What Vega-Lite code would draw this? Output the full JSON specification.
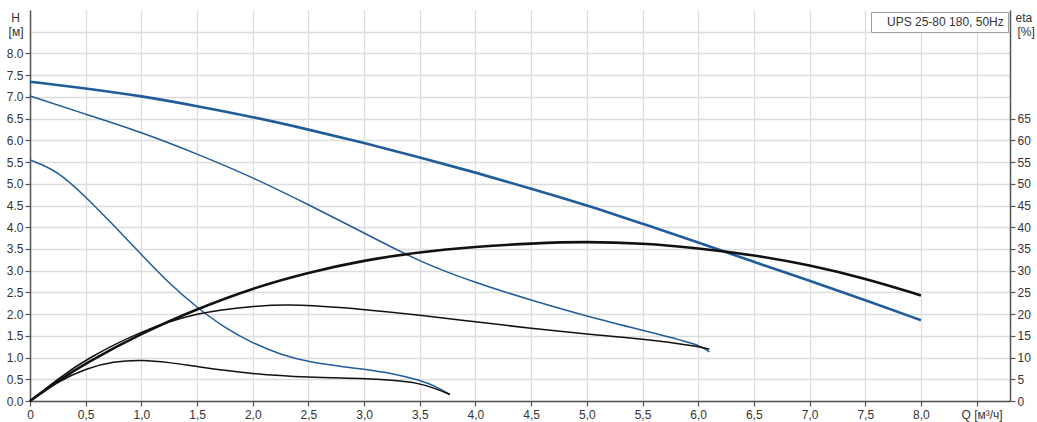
{
  "$schema": "https://vega.github.io/schema/vega-lite/v6.json",
  "width": 980,
  "height": 391,
  "autosize": {"type": "none"},
  "padding": {"left": 30, "top": 10, "right": 27, "bottom": 21},
  "background": "white",
  "config": {
    "font": "Liberation Sans",
    "view": {"stroke": null},
    "axis": {
      "labelFont": "Liberation Sans",
      "labelFontSize": 12,
      "labelColor": "#333333",
      "domainColor": "#555555",
      "domainWidth": 1.5,
      "tickColor": "#555555",
      "tickSize": 5,
      "tickWidth": 1.2,
      "gridColor": "#dcdcdc",
      "gridWidth": 1.3,
      "titleFont": "Liberation Sans",
      "titleFontSize": 12,
      "titleFontWeight": "normal",
      "titleColor": "#333333",
      "labelFlush": false,
      "labelOverlap": false,
      "labelBound": false
    }
  },
  "datasets": {
    "H": [
      {"curve": "n3", "q": 0, "h": 7.35}, {"curve": "n3", "q": 0.5, "h": 7.2}, {"curve": "n3", "q": 1, "h": 7.02},
      {"curve": "n3", "q": 1.5, "h": 6.79}, {"curve": "n3", "q": 2, "h": 6.54}, {"curve": "n3", "q": 2.5, "h": 6.25},
      {"curve": "n3", "q": 3, "h": 5.94}, {"curve": "n3", "q": 3.5, "h": 5.61}, {"curve": "n3", "q": 4, "h": 5.26},
      {"curve": "n3", "q": 4.5, "h": 4.89}, {"curve": "n3", "q": 5, "h": 4.51}, {"curve": "n3", "q": 5.5, "h": 4.08},
      {"curve": "n3", "q": 6, "h": 3.65}, {"curve": "n3", "q": 6.5, "h": 3.2}, {"curve": "n3", "q": 7, "h": 2.77},
      {"curve": "n3", "q": 7.5, "h": 2.32}, {"curve": "n3", "q": 8, "h": 1.86},
      {"curve": "n2", "q": 0, "h": 7.02}, {"curve": "n2", "q": 0.5, "h": 6.6}, {"curve": "n2", "q": 1, "h": 6.19},
      {"curve": "n2", "q": 1.5, "h": 5.69}, {"curve": "n2", "q": 2, "h": 5.15}, {"curve": "n2", "q": 2.5, "h": 4.52},
      {"curve": "n2", "q": 3, "h": 3.87}, {"curve": "n2", "q": 3.5, "h": 3.2}, {"curve": "n2", "q": 4, "h": 2.72},
      {"curve": "n2", "q": 4.5, "h": 2.32}, {"curve": "n2", "q": 5, "h": 1.95}, {"curve": "n2", "q": 5.5, "h": 1.63},
      {"curve": "n2", "q": 6, "h": 1.31}, {"curve": "n2", "q": 6.1, "h": 1.13},
      {"curve": "n1", "q": 0, "h": 5.55}, {"curve": "n1", "q": 0.25, "h": 5.3}, {"curve": "n1", "q": 0.5, "h": 4.7},
      {"curve": "n1", "q": 0.75, "h": 4.05}, {"curve": "n1", "q": 1, "h": 3.37}, {"curve": "n1", "q": 1.25, "h": 2.7},
      {"curve": "n1", "q": 1.5, "h": 2.15}, {"curve": "n1", "q": 1.75, "h": 1.68}, {"curve": "n1", "q": 2, "h": 1.33},
      {"curve": "n1", "q": 2.25, "h": 1.07}, {"curve": "n1", "q": 2.5, "h": 0.89}, {"curve": "n1", "q": 3, "h": 0.73},
      {"curve": "n1", "q": 3.25, "h": 0.64}, {"curve": "n1", "q": 3.5, "h": 0.48}, {"curve": "n1", "q": 3.65, "h": 0.33},
      {"curve": "n1", "q": 3.77, "h": 0.15}
    ],
    "eta": [
      {"curve": "n3", "q": 0, "eta": 0}, {"curve": "n3", "q": 0.25, "eta": 4.6}, {"curve": "n3", "q": 0.5, "eta": 8.7},
      {"curve": "n3", "q": 1, "eta": 15.6}, {"curve": "n3", "q": 1.5, "eta": 21.2}, {"curve": "n3", "q": 2, "eta": 26.0},
      {"curve": "n3", "q": 2.5, "eta": 29.6}, {"curve": "n3", "q": 3, "eta": 32.4}, {"curve": "n3", "q": 3.5, "eta": 34.3},
      {"curve": "n3", "q": 4, "eta": 35.5}, {"curve": "n3", "q": 4.5, "eta": 36.3}, {"curve": "n3", "q": 5, "eta": 36.7},
      {"curve": "n3", "q": 5.5, "eta": 36.3}, {"curve": "n3", "q": 6, "eta": 35.2}, {"curve": "n3", "q": 6.5, "eta": 33.6},
      {"curve": "n3", "q": 7, "eta": 31.3}, {"curve": "n3", "q": 7.5, "eta": 28.2}, {"curve": "n3", "q": 8, "eta": 24.3},
      {"curve": "n2", "q": 0, "eta": 0}, {"curve": "n2", "q": 0.25, "eta": 5.1}, {"curve": "n2", "q": 0.5, "eta": 9.6},
      {"curve": "n2", "q": 1, "eta": 16.2}, {"curve": "n2", "q": 1.5, "eta": 20.4}, {"curve": "n2", "q": 2, "eta": 21.9},
      {"curve": "n2", "q": 2.4, "eta": 22.3}, {"curve": "n2", "q": 3, "eta": 21.1}, {"curve": "n2", "q": 3.5, "eta": 19.8},
      {"curve": "n2", "q": 4, "eta": 18.2}, {"curve": "n2", "q": 4.5, "eta": 16.7}, {"curve": "n2", "q": 5, "eta": 15.4},
      {"curve": "n2", "q": 5.5, "eta": 14.3}, {"curve": "n2", "q": 6, "eta": 12.6}, {"curve": "n2", "q": 6.1, "eta": 11.9},
      {"curve": "n1", "q": 0, "eta": 0}, {"curve": "n1", "q": 0.25, "eta": 4.5}, {"curve": "n1", "q": 0.5, "eta": 7.5},
      {"curve": "n1", "q": 0.75, "eta": 9.1}, {"curve": "n1", "q": 1, "eta": 9.5}, {"curve": "n1", "q": 1.25, "eta": 8.9},
      {"curve": "n1", "q": 1.5, "eta": 7.9}, {"curve": "n1", "q": 2, "eta": 6.2}, {"curve": "n1", "q": 2.5, "eta": 5.4},
      {"curve": "n1", "q": 3, "eta": 5.2}, {"curve": "n1", "q": 3.25, "eta": 4.8}, {"curve": "n1", "q": 3.5, "eta": 4.1},
      {"curve": "n1", "q": 3.65, "eta": 2.8}, {"curve": "n1", "q": 3.77, "eta": 1.5}
    ],
    "legend": [{"name": "UPS 25-80 180, 50Hz"}]
  },
  "layer": [
    {
      "data": {"name": "H"},
      "mark": {"type": "line", "interpolate": "basis", "color": "#1f5c99"},
      "encoding": {
        "x": {
          "field": "q", "type": "quantitative",
          "scale": {"domain": [0, 8.8], "nice": false, "zero": false},
          "axis": {
            "title": null,
            "values": [0, 0.5, 1, 1.5, 2, 2.5, 3, 3.5, 4, 4.5, 5, 5.5, 6, 6.5, 7, 7.5, 8, 8.5],
            "labelExpr": "datum.value == 0 ? '0' : (datum.value == 8.5 ? 'Q [м³/ч]' : replace(format(datum.value, '.1f'), '.', ','))",
            "labelOffset": {"condition": {"test": "datum.value == 8.5", "value": 5}, "value": 0},
            "labelPadding": 3,
            "grid": true
          }
        },
        "y": {
          "field": "h", "type": "quantitative",
          "scale": {"domain": [0, 9], "nice": false, "zero": false},
          "axis": {
            "orient": "left",
            "values": [0, 0.5, 1, 1.5, 2, 2.5, 3, 3.5, 4, 4.5, 5, 5.5, 6, 6.5, 7, 7.5, 8, 8.5],
            "labelExpr": "datum.value == 8.5 ? '[м]' : format(datum.value, '.1f')",
            "tickOpacity": {"condition": {"test": "datum.value == 8.5", "value": 0}, "value": 1},
            "grid": true,
            "title": "H",
            "titleAngle": 0,
            "titleAlign": "center",
            "titleBaseline": "middle",
            "titleX": -15,
            "titleY": 7
          }
        },
        "detail": {"field": "curve", "type": "nominal"},
        "strokeWidth": {"condition": {"test": "datum.curve == 'n3'", "value": 2.6}, "value": 1.5}
      }
    },
    {
      "data": {"name": "eta"},
      "mark": {"type": "line", "interpolate": "basis", "color": "#111111"},
      "encoding": {
        "x": {"field": "q", "type": "quantitative"},
        "y": {
          "field": "eta", "type": "quantitative",
          "scale": {"domain": [0, 90], "nice": false, "zero": false},
          "axis": {
            "orient": "right",
            "values": [0, 5, 10, 15, 20, 25, 30, 35, 40, 45, 50, 55, 60, 65, 85],
            "labelExpr": "datum.value == 85 ? '[%]' : format(datum.value, 'd')",
            "tickOpacity": {"condition": {"test": "datum.value == 85", "value": 0}, "value": 1},
            "grid": false,
            "title": "eta",
            "titleAngle": 0,
            "titleAlign": "left",
            "titleBaseline": "middle",
            "titleX": 5,
            "titleY": 7
          }
        },
        "detail": {"field": "curve", "type": "nominal"},
        "strokeWidth": {"condition": {"test": "datum.curve == 'n3'", "value": 2.6}, "value": 1.5}
      }
    },
    {
      "data": {"name": "legend"},
      "mark": {"type": "point", "opacity": 0},
      "encoding": {
        "color": {
          "field": "name", "type": "nominal",
          "scale": {"range": ["#ffffff"]},
          "legend": {
            "title": null,
            "orient": "top-right",
            "offset": 2,
            "strokeColor": "#a0a0a0",
            "fillColor": "white",
            "padding": 4,
            "symbolSize": 0,
            "symbolOpacity": 0,
            "symbolStrokeWidth": 0,
            "labelOffset": 0,
            "labelFont": "Liberation Sans",
            "labelFontSize": 12,
            "labelColor": "#333333"
          }
        }
      }
    }
  ],
  "resolve": {"scale": {"y": "independent"}}
}
